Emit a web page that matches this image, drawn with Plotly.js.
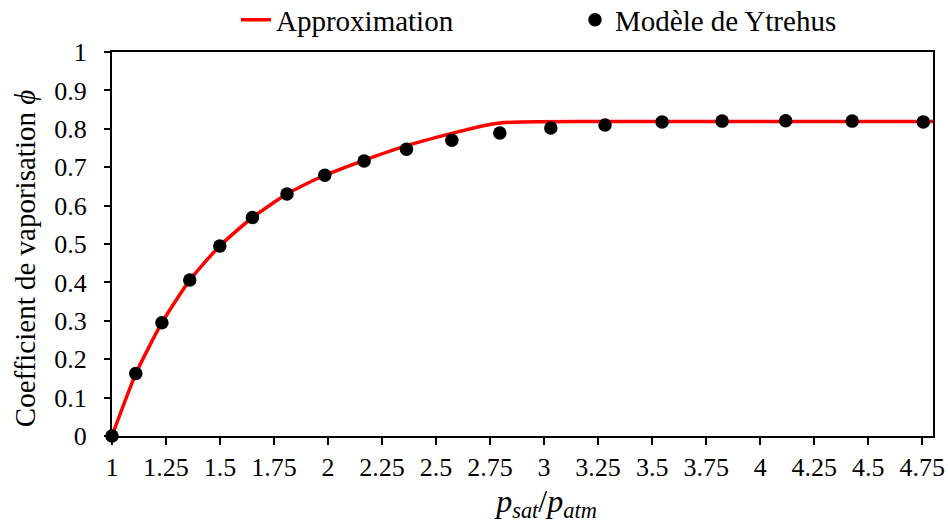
<!DOCTYPE html>
<html>
<head>
<meta charset="utf-8">
<script src="https://cdn.plot.ly/plotly-3.0.1.min.js"></script>
<style>html,body{margin:0;padding:0;background:#fff;}#chart{width:948px;height:527px;}</style>
</head>
<body>
<div id="chart"></div>
<script>
// Approximation curve
const approxX = [1, 1.111, 1.231, 1.360, 1.499, 1.650, 1.810, 1.985, 2.167, 2.363, 2.573, 2.703, 2.795, 2.888, 3.2, 3.6, 4.0, 4.4, 4.80];
const approxY = [0, 0.163, 0.295, 0.406, 0.495, 0.569, 0.630, 0.679, 0.718, 0.756, 0.788, 0.806, 0.815, 0.818, 0.819, 0.819, 0.819, 0.819, 0.819];

// Modèle de Ytrehus points
const ytrehusX = [1, 1.110, 1.231, 1.360, 1.499, 1.650, 1.810, 1.985, 2.167, 2.363, 2.573, 2.795, 3.031, 3.282, 3.546, 3.824, 4.118, 4.426, 4.755, 4.803];
const ytrehusY = [0, 0.163, 0.295, 0.406, 0.495, 0.569, 0.630, 0.679, 0.716, 0.747, 0.770, 0.789, 0.802, 0.810, 0.818, 0.820, 0.821, 0.820, 0.818, 0.818];

const xTickVals = [1, 1.25, 1.5, 1.75, 2, 2.25, 2.5, 2.75, 3, 3.25, 3.5, 3.75, 4, 4.25, 4.5, 4.75];
const xTickText = ["1", "1.25", "1.5", "1.75", "2", "2.25", "2.5", "2.75", "3", "3.25", "3.5", "3.75", "4", "4.25", "4.5", "4.75"];
const yTickVals = [0, 0.1, 0.2, 0.3, 0.4, 0.5, 0.6, 0.7, 0.8, 0.9, 1];
const yTickText = ["0", "0.1", "0.2", "0.3", "0.4", "0.5", "0.6", "0.7", "0.8", "0.9", "1"];

const FONT = "Liberation Serif, Times New Roman, serif";

const traces = [
  {
    x: approxX, y: approxY, type: 'scatter', mode: 'lines',
    name: 'Approximation',
    line: {color: '#ff0000', width: 3.5, shape: 'spline', smoothing: 0.6},
    cliponaxis: false
  },
  {
    x: ytrehusX, y: ytrehusY, type: 'scatter', mode: 'markers',
    name: 'Modèle de Ytrehus',
    marker: {color: '#000000', size: 13.5},
    cliponaxis: false
  }
];

const layout = {
  width: 948, height: 527,
  margin: {l: 112, r: 15, t: 52, b: 91, autoexpand: false},
  paper_bgcolor: '#ffffff', plot_bgcolor: '#ffffff',
  font: {family: FONT, color: '#000000', size: 26},
  showlegend: true,
  legend: {
    orientation: 'h', xref: 'paper', x: 0.151, xanchor: 'left',
    yref: 'paper', y: 1.15, yanchor: 'top',
    entrywidth: 294, entrywidthmode: 'pixels',
    font: {family: FONT, size: 29, color: '#000'},
    bgcolor: 'rgba(0,0,0,0)'
  },
  xaxis: {
    range: [1, 4.80], tickmode: 'array', tickvals: xTickVals, ticktext: xTickText,
    showgrid: false, zeroline: false,
    showline: true, linecolor: '#000', linewidth: 2, mirror: true,
    ticks: 'outside', ticklen: 7, tickwidth: 2, tickcolor: '#000',
    tickfont: {family: FONT, size: 26},
    title: {text: '&nbsp;&nbsp;&nbsp;&nbsp;&nbsp;&nbsp;<i>p</i><sub><i>sat</i></sub>/<i>p</i><sub><i>atm</i></sub>', font: {family: FONT, size: 32}, standoff: 8}
  },
  yaxis: {
    range: [0, 1], tickmode: 'array', tickvals: yTickVals, ticktext: yTickText,
    showgrid: false, zeroline: false,
    showline: true, linecolor: '#000', linewidth: 2, mirror: true,
    ticks: 'outside', ticklen: 6, tickwidth: 2, tickcolor: '#000',
    ticklabelstandoff: 12,
    tickfont: {family: FONT, size: 26},
    title: {text: 'Coefficient de vaporisation <i>ϕ</i>&nbsp;&nbsp;&nbsp;&nbsp;', font: {family: FONT, size: 29}, standoff: 10}
  }
};

Plotly.newPlot('chart', traces, layout, {staticPlot: true, displayModeBar: false});
</script>
</body>
</html>
